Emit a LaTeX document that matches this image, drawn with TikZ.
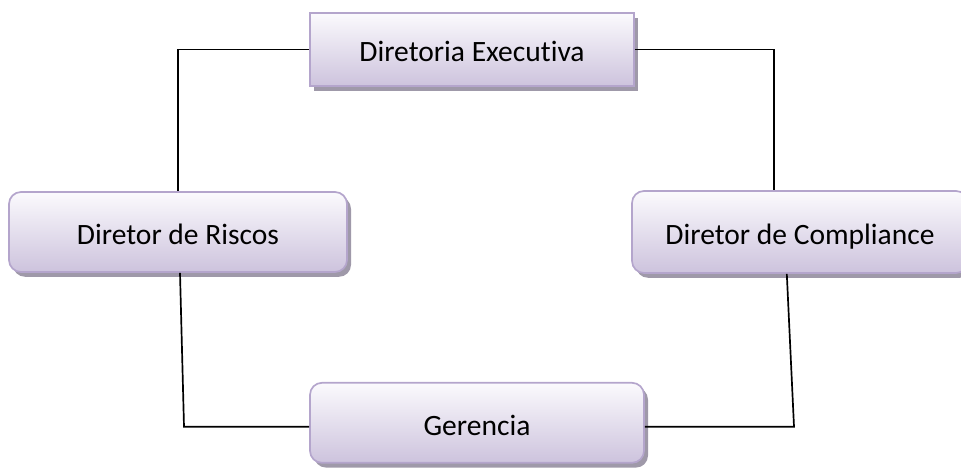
\documentclass[tikz,border=0pt]{standalone}
\usepackage{fontspec}
\setmainfont{Carlito}[Ligatures=NoCommon]
\usetikzlibrary{shadows}
\definecolor{boxline}{HTML}{B4A5CC}
\definecolor{boxtop}{HTML}{FBFAFD}
\definecolor{boxbottom}{HTML}{CDC3DD}
\definecolor{boxshadow}{HTML}{9F99A9}
\tikzset{box/.style = {draw=boxline, line width=1.2pt, top color=boxtop, bottom color=boxbottom,
  drop shadow={shadow xshift=0.1cm, shadow yshift=-0.12cm, fill=boxshadow, opacity=1},
  font=\fontsize{21}{25}\selectfont, inner sep=0pt, text height=19pt, text depth=1.5pt}}
\tikzset{link/.style = {line width=1.2pt, black}}

\begin{document}
\begin{tikzpicture}
\useasboundingbox (0,0) rectangle (24.025,11.7);
\node [box, minimum width=8.1cm, minimum height=1.83cm] (exec) at (11.8,10.46) {Diretoria Executiva};
\node [box, rounded corners=0.3cm, minimum width=8.45cm, minimum height=2cm] (riscos) at (4.45,5.9) {Diretor de Riscos};
\node [box, rounded corners=0.3cm, minimum width=8.4cm, minimum height=2.05cm] (compl) at (20.0,5.9) {Diretor de Compliance};
\node [box, rounded corners=0.3cm, minimum width=8.35cm, minimum height=2cm] (ger) at (11.925,1.13) {Gerencia};
\coordinate (bl) at (4.6,1.03);
\coordinate (br) at (19.85,1.03);
\draw [link] (exec.west) -| (riscos.north);
\draw [link] (exec.east) -| ([xshift=-0.65cm]compl.north);
\draw [link] ([xshift=0.05cm]riscos.south) -- (bl) -- (ger.west |- bl);
\draw [link] ([xshift=-0.33cm]compl.south) -- (br) -- (ger.east |- br);
\end{tikzpicture}
\end{document}
